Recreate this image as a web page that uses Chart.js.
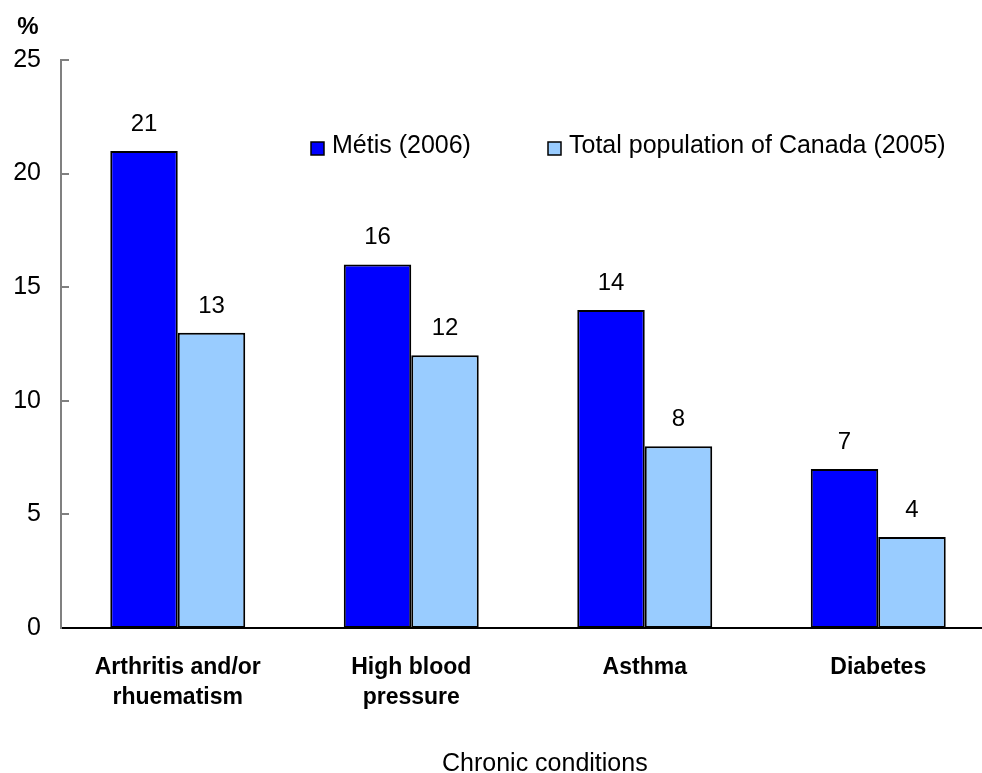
<!DOCTYPE html>
<html>
<head>
<meta charset="utf-8">
<script src="https://cdn.jsdelivr.net/npm/chart.js@4"></script>
<style>
  html, body { margin: 0; padding: 0; background: #fff; overflow: hidden; }
  #wrap { width: 1000px; height: 773px; }
</style>
</head>
<body>
<div id="wrap"><canvas id="c" width="1000" height="773"></canvas></div>
<script>
const categories = [['Arthritis and/or', 'rhuematism'], ['High blood', 'pressure'], 'Asthma', 'Diabetes'];
const seriesNames = ['Métis (2006)', 'Total population of Canada (2005)'];
const metis = [21, 16, 14, 7];
const canada = [13, 12, 8, 4];
const yTicks = [0, 5, 10, 15, 20, 25];
const yUnit = '%';
const xTitle = 'Chronic conditions';

const FONT = '"Liberation Sans", Arial, sans-serif';
const colors = ['#0000FF', '#99CCFF'];

// Value labels above each bar
const valueLabels = {
  id: 'valueLabels',
  afterDatasetsDraw(chart) {
    const ctx = chart.ctx;
    ctx.save();
    ctx.font = '24px ' + FONT;
    ctx.fillStyle = '#000';
    ctx.textAlign = 'center';
    ctx.textBaseline = 'alphabetic';
    chart.data.datasets.forEach((ds, i) => {
      chart.getDatasetMeta(i).data.forEach((bar, j) => {
        ctx.fillText(String(ds.data[j]), bar.x, bar.y - 20);
      });
    });
    ctx.restore();
  }
};

// Inward y tick marks, unit label, legend and axis title
const decorations = {
  id: 'decorations',
  afterDraw(chart) {
    const ctx = chart.ctx;
    const y = chart.scales.y;
    const area = chart.chartArea;
    ctx.save();
    ctx.strokeStyle = '#808080';
    ctx.lineWidth = 2;
    yTicks.forEach(v => {
      if (v === 0) return;
      const py = Math.round(y.getPixelForValue(v));
      ctx.beginPath();
      ctx.moveTo(area.left, py);
      ctx.lineTo(area.left + 8, py);
      ctx.stroke();
    });

    ctx.fillStyle = '#000';
    ctx.font = 'bold 24px ' + FONT;
    ctx.textAlign = 'center';
    ctx.textBaseline = 'middle';
    ctx.fillText(yUnit, 28, 27);

    // legend
    const legendX = [311, 548];
    ctx.font = '25px ' + FONT;
    ctx.textAlign = 'left';
    ctx.textBaseline = 'alphabetic';
    chart.data.datasets.forEach((ds, i) => {
      const x0 = legendX[i];
      ctx.fillStyle = ds.backgroundColor;
      ctx.fillRect(x0, 142, 13, 13);
      ctx.strokeStyle = '#000';
      ctx.lineWidth = 1.5;
      ctx.strokeRect(x0, 142, 13, 13);
      ctx.fillStyle = '#000';
      ctx.fillText(ds.label, x0 + 21, 153);
    });

    ctx.font = '25px ' + FONT;
    ctx.textAlign = 'left';
    ctx.fillText(xTitle, 442, 771);
    ctx.restore();
  }
};

new Chart(document.getElementById('c'), {
  type: 'bar',
  data: {
    labels: categories,
    datasets: [
      { label: seriesNames[0], data: metis, backgroundColor: colors[0], borderColor: '#000', borderWidth: 2, borderSkipped: false },
      { label: seriesNames[1], data: canada, backgroundColor: colors[1], borderColor: '#000', borderWidth: 2, borderSkipped: false }
    ]
  },
  options: {
    responsive: false,
    animation: false,
    layout: { padding: { top: 60, right: 5, left: 0, bottom: 0 } },
    plugins: { legend: { display: false }, tooltip: { enabled: false } },
    datasets: { bar: { categoryPercentage: 0.578, barPercentage: 1 } },
    scales: {
      x: {
        grid: { display: false, drawTicks: false },
        border: { display: true, color: '#000', width: 2 },
        ticks: { color: '#000', font: { family: FONT, size: 23, weight: 'bold', lineHeight: 1.3 }, padding: 25, maxRotation: 0, autoSkip: false },
        afterFit(scale) { scale.height = 145; }
      },
      y: {
        min: 0, max: 25,
        afterBuildTicks(scale) { scale.ticks = yTicks.map(v => ({ value: v })); },
        grid: { display: false, drawTicks: false },
        border: { display: true, color: '#808080', width: 2 },
        ticks: { color: '#000', font: { family: FONT, size: 25 }, padding: 20 },
        afterFit(scale) { scale.width = 61; }
      }
    }
  },
  plugins: [valueLabels, decorations]
});
</script>
</body>
</html>
